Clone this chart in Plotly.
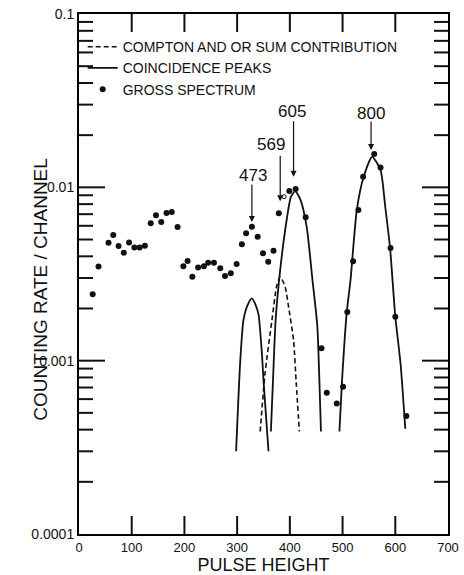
import math
import plotly.graph_objects as go

# ---------------- data ----------------
gross_x = [26, 37, 56, 65, 75, 85, 95, 105, 115, 125, 136, 146, 156, 166, 176, 187,
           198, 206, 215, 226, 237, 245, 256, 268, 277, 288, 299, 309, 317, 328, 339,
           349, 359, 369, 379, 399, 411, 430, 460, 470, 489, 501, 509, 520, 530, 539,
           560, 572, 591, 600, 621]
gross_y = [0.00242, 0.00349, 0.00479, 0.00531, 0.00459, 0.0042, 0.0048, 0.0045, 0.0045,
           0.0046, 0.0062, 0.0069, 0.0063, 0.0071, 0.0072, 0.0059,
           0.00351, 0.00376, 0.00305, 0.00345, 0.00351, 0.00367, 0.00367, 0.00341, 0.00308,
           0.00319, 0.00361, 0.00469, 0.00543, 0.00593, 0.00519, 0.00416, 0.00372, 0.00431,
           0.00708, 0.00952, 0.00977, 0.00671, 0.00118, 0.000653, 0.000567, 0.000707,
           0.00191, 0.00374, 0.0074, 0.0115, 0.01557, 0.0130, 0.00447, 0.00179, 0.000479]

open_x = [389]
open_y = [0.00883]

compton_x = [343.7, 353, 366, 375, 381.7, 391, 397.5, 407, 412, 418]
compton_y = [0.00039, 0.00085, 0.00171, 0.0027, 0.00305, 0.00267, 0.00205, 0.00131, 0.00075, 0.00039]

peak473_x = [298, 306, 312, 320, 328, 335, 340.5, 347, 350, 359.5]
peak473_y = [0.0003, 0.00101, 0.00172, 0.0021, 0.00229, 0.0021, 0.00185, 0.0011, 0.00077, 0.0003]

peak605_x = [364, 368, 373, 381, 394, 402, 410, 420, 432, 443, 452, 456, 459]
peak605_y = [0.00039, 0.00077, 0.00171, 0.0032, 0.0065, 0.0088, 0.0095, 0.0085, 0.0059,
             0.0029, 0.0016, 0.00077, 0.00039]

peak800_x = [494, 499, 508, 515, 527, 540, 556, 572, 581, 590, 600, 610, 619]
peak800_y = [0.00039, 0.00077, 0.00191, 0.0029, 0.0074, 0.0115, 0.0150, 0.0126, 0.0077,
             0.0045, 0.0018, 0.00096, 0.000405]

peak_labels = ["473", "569", "605", "800"]
peak_tip_x = [328, 381.7, 407, 554]
peak_tip_y = [0.0063, 0.0083, 0.0115, 0.0164]

x_ticks = [0, 100, 200, 300, 400, 500, 600, 700]
y_ticks = [0.0001, 0.001, 0.01, 0.1]
y_ticktext = ["0.0001", "0.001", "0.01", "0.1"]
y_minor = [k * 10.0 ** e for e in (-4, -3, -2) for k in range(2, 10)]

FONT = "Liberation Sans"
BLACK = "#111111"

# plot geometry (used only to convert tick lengths in pixels to axis units)
W, H = 464, 575
ML, MR, MT, MB = 79, 16, 14, 41
X_RANGE = (0, 700)
Y_RANGE = (-4, -1)
px_per_x = (W - ML - MR) / (X_RANGE[1] - X_RANGE[0])
px_per_dec = (H - MT - MB) / (Y_RANGE[1] - Y_RANGE[0])

fig = go.Figure()

fig.add_trace(go.Scatter(
    x=compton_x, y=compton_y, mode="lines", name="COMPTON AND OR SUM CONTRIBUTION",
    line=dict(color=BLACK, width=1.6, dash="5px,3px", shape="spline", smoothing=0.6)))

fig.add_trace(go.Scatter(
    x=peak473_x, y=peak473_y, mode="lines", name="COINCIDENCE PEAKS", legendgroup="peaks",
    line=dict(color=BLACK, width=1.8, shape="spline", smoothing=0.6)))
for px_, py_ in ((peak605_x, peak605_y), (peak800_x, peak800_y)):
    fig.add_trace(go.Scatter(
        x=px_, y=py_, mode="lines", name="COINCIDENCE PEAKS", legendgroup="peaks",
        showlegend=False,
        line=dict(color=BLACK, width=1.8, shape="spline", smoothing=0.6)))

fig.add_trace(go.Scatter(
    x=gross_x, y=gross_y, mode="markers", name="GROSS SPECTRUM",
    marker=dict(color=BLACK, size=6, symbol="circle")))

fig.add_trace(go.Scatter(
    x=open_x, y=open_y, mode="markers", showlegend=False,
    marker=dict(color=BLACK, size=4, symbol="circle-open", line=dict(width=1))))

# inward tick marks on all four sides, derived from the axis tick values
tx, ty = [], []
ylo, yhi = 10 ** Y_RANGE[0], 10 ** Y_RANGE[1]
xl = 18 / px_per_dec
for v in x_ticks[1:-1]:
    tx += [v, v, None, v, v, None]
    ty += [ylo, ylo * 10 ** xl, None, yhi, yhi / 10 ** xl, None]
for vals, length in ((y_ticks[1:-1], 26), (y_minor, 14)):
    dx = length / px_per_x
    for v in vals:
        tx += [X_RANGE[0], X_RANGE[0] + dx, None, X_RANGE[1], X_RANGE[1] - dx, None]
        ty += [v, v, None, v, v, None]
fig.add_trace(go.Scatter(x=tx, y=ty, mode="lines", showlegend=False, hoverinfo="skip",
                         cliponaxis=False, connectgaps=False,
                         line=dict(color=BLACK, width=2)))

# arrows and labels
text_dx = [1, -9.5, -2, 0]
text_dy = [47, 57, 65, 37]
arrow_len = [39, 47, 57, 30]
for lab, xv, yv, ddx, ddy, al in zip(peak_labels, peak_tip_x, peak_tip_y, text_dx, text_dy, arrow_len):
    fig.add_annotation(x=xv, y=math.log10(yv), xref="x", yref="y", text="",
                       showarrow=True, ax=0, ay=-al, arrowhead=2, arrowsize=1,
                       arrowwidth=1.2, arrowcolor=BLACK)
    fig.add_annotation(x=xv, y=math.log10(yv), xref="x", yref="y", text=lab,
                       showarrow=False, xshift=ddx, yshift=ddy,
                       font=dict(family=FONT, size=17, color=BLACK))

# y-axis title placed like the hand-lettered original
fig.add_annotation(text="COUNTING RATE / CHANNEL", xref="paper", yref="paper",
                   x=-0.138, y=0.471, textangle=-90, showarrow=False,
                   font=dict(family=FONT, size=19, color=BLACK))

fig.update_layout(
    template="none",
    width=W, height=H,
    margin=dict(l=ML, r=MR, t=MT, b=MB),
    paper_bgcolor="white", plot_bgcolor="white",
    font=dict(family=FONT, color=BLACK),
    showlegend=True,
    legend=dict(x=0.01, y=0.967, xanchor="left", yanchor="top",
                bgcolor="rgba(0,0,0,0)", font=dict(family=FONT, size=14, color=BLACK),
                itemwidth=30, tracegroupgap=0),
    xaxis=dict(range=list(X_RANGE), tickmode="array", tickvals=x_ticks, ticks="",
               showline=True, linecolor="black", linewidth=2, mirror=True,
               showgrid=False, zeroline=False, automargin=False,
               tickfont=dict(family=FONT, size=13, color=BLACK),
               title=dict(text="PULSE HEIGHT", font=dict(family=FONT, size=18, color=BLACK),
                          standoff=2)),
    yaxis=dict(type="log", range=list(Y_RANGE), tickmode="array", tickvals=y_ticks,
               ticktext=y_ticktext, ticks="", showline=True, linecolor="black",
               linewidth=2, mirror=True, showgrid=False, zeroline=False,
               automargin=False,
               tickfont=dict(family=FONT, size=14, color=BLACK)),
)

fig.write_html("out.html")
